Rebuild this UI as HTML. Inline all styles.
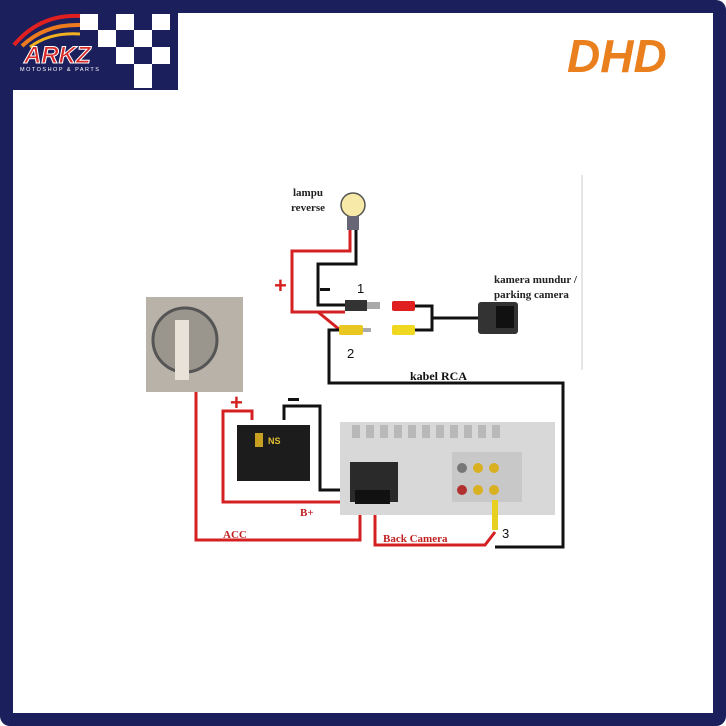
<!DOCTYPE html>
<html><head><meta charset="utf-8"><style>
body{margin:0;background:#fff}
svg{display:block}
text{font-weight:bold}
.s{font-family:"Liberation Sans",sans-serif}
.r{font-family:"Liberation Serif",serif}
</style></head><body>
<svg width="726" height="726" viewBox="0 0 726 726" xmlns="http://www.w3.org/2000/svg">
<rect width="726" height="726" fill="#1b1f5c" rx="10"/>
<rect x="13" y="13" width="700" height="700" fill="#fff"/>
<rect x="0" y="0" width="178" height="90" fill="#1b1f5c"/>
<g fill="#fff">
<rect x="80" y="14" width="18" height="16"/><rect x="116" y="14" width="18" height="16"/><rect x="152" y="14" width="18" height="16"/>
<rect x="98" y="30" width="18" height="17"/><rect x="134" y="30" width="18" height="17"/>
<rect x="116" y="47" width="18" height="17"/><rect x="152" y="47" width="18" height="17"/>
<rect x="134" y="64" width="18" height="24"/>
</g>
<path d="M14,45 Q40,14 80,16" stroke="#e02020" stroke-width="4" fill="none"/>
<path d="M22,46 Q45,24 80,25" stroke="#ee7a20" stroke-width="4" fill="none"/>
<path d="M30,47 Q50,32 80,34" stroke="#f0b020" stroke-width="3" fill="none"/>
<text class="s" x="24" y="63" font-style="italic" font-size="24" fill="#d82828" stroke="#fff" stroke-width="1">ARKZ</text>
<text class="s" x="20" y="71" font-size="5.5" style="font-weight:normal" fill="#fff" letter-spacing="1.5">MOTOSHOP &amp; PARTS</text>
<text class="s" x="567" y="72" font-style="italic" font-size="46" fill="#ea7f1e">DHD</text>
<line x1="582" y1="175" x2="582" y2="370" stroke="#ccc" stroke-width="1"/>
<rect x="146" y="297" width="97" height="95" fill="#b8b2a8"/>
<circle cx="185" cy="340" r="32" fill="#9a958d" stroke="#555" stroke-width="3"/>
<rect x="175" y="320" width="14" height="60" fill="#e8e2d8"/>
<circle cx="353" cy="205" r="12" fill="#f7e9a8" stroke="#555" stroke-width="1.5"/>
<rect x="347" y="216" width="12" height="14" fill="#667"/>
<text class="r" x="293" y="196" font-size="11" fill="#222">lampu</text>
<text class="r" x="291" y="211" font-size="11" fill="#222">reverse</text>
<g fill="none" stroke-width="3">
<polyline points="350,230 350,251 292,251 292,312 345,312" stroke="#d42020"/>
<line x1="318" y1="312" x2="340" y2="330" stroke="#d42020"/>
<polyline points="356,230 356,264 318,264 318,305 345,305" stroke="#111"/>
<polyline points="340,330 329,330 329,383 563,383 563,547 495,547" stroke="#111"/>
<polyline points="415,306 432,306 432,330 415,330" stroke="#111"/>
<polyline points="432,318 478,318" stroke="#111"/>
<polyline points="252,420 252,411 223,411 223,502 355,502" stroke="#d42020"/>
<polyline points="284,420 284,406 320,406 320,490 355,490" stroke="#111"/>
<polyline points="196,392 196,540 360,540 360,505" stroke="#d42020"/>
<polyline points="375,505 375,545 485,545 495,532" stroke="#d42020"/>
</g>
<rect x="345" y="300" width="22" height="11" fill="#333"/><rect x="367" y="302" width="13" height="7" fill="#aaa"/>
<rect x="392" y="301" width="23" height="10" fill="#e02020" rx="2"/>
<rect x="339" y="325" width="24" height="10" fill="#e8c820" rx="2"/><rect x="363" y="328" width="8" height="4" fill="#aaa"/>
<rect x="392" y="325" width="23" height="10" fill="#f0d820" rx="2"/>
<rect x="478" y="302" width="40" height="32" fill="#333" rx="3"/><rect x="496" y="306" width="18" height="22" fill="#111"/>
<text class="r" x="494" y="283" font-size="11" fill="#222">kamera mundur /</text>
<text class="r" x="494" y="298" font-size="11" fill="#222">parking camera</text>
<text class="s" x="357" y="293" font-size="13" style="font-weight:normal" fill="#111">1</text>
<text class="s" x="347" y="358" font-size="13" style="font-weight:normal" fill="#111">2</text>
<text class="s" x="502" y="538" font-size="13" style="font-weight:normal" fill="#111">3</text>
<text class="r" x="410" y="380" font-size="12" fill="#111">kabel RCA</text>
<text class="s" x="274" y="293" font-size="22" fill="#d42020">+</text>
<rect x="320" y="288" width="10" height="3" fill="#111"/>
<text class="s" x="230" y="410" font-size="22" fill="#d42020">+</text>
<rect x="288" y="398" width="11" height="3" fill="#111"/>
<rect x="237" y="425" width="73" height="56" fill="#1c1c1c"/>
<rect x="255" y="433" width="8" height="14" fill="#c8a020"/>
<text class="s" x="268" y="444" font-size="9" fill="#e0c030">NS</text>
<rect x="340" y="422" width="215" height="93" fill="#d8d8d8"/>
<g fill="#b8b8b8"><rect x="352" y="425" width="8" height="13"/><rect x="366" y="425" width="8" height="13"/><rect x="380" y="425" width="8" height="13"/><rect x="394" y="425" width="8" height="13"/><rect x="408" y="425" width="8" height="13"/><rect x="422" y="425" width="8" height="13"/><rect x="436" y="425" width="8" height="13"/><rect x="450" y="425" width="8" height="13"/><rect x="464" y="425" width="8" height="13"/><rect x="478" y="425" width="8" height="13"/><rect x="492" y="425" width="8" height="13"/></g>
<rect x="350" y="462" width="48" height="40" fill="#2a2a2a"/>
<rect x="355" y="490" width="35" height="14" fill="#111"/>
<rect x="452" y="452" width="70" height="50" fill="#c8c8c8"/>
<circle cx="462" cy="468" r="5" fill="#777"/><circle cx="478" cy="468" r="5" fill="#d8b020"/><circle cx="494" cy="468" r="5" fill="#d8b020"/>
<circle cx="462" cy="490" r="5" fill="#b03030"/><circle cx="478" cy="490" r="5" fill="#d8b020"/><circle cx="494" cy="490" r="5" fill="#d8b020"/>
<rect x="492" y="500" width="6" height="30" fill="#e8d020"/>
<text class="r" x="300" y="516" font-size="11" fill="#c02020">B+</text>
<text class="r" x="223" y="538" font-size="11" fill="#c02020">ACC</text>
<text class="r" x="383" y="542" font-size="11" fill="#c02020">Back Camera</text>
</svg>
</body></html>
